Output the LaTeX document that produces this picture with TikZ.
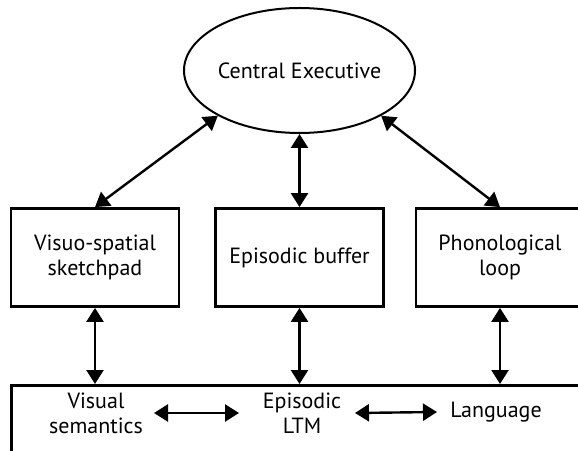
\documentclass[tikz,border=0pt]{standalone}
\usepackage{fontspec}
\setmainfont{PT Sans}
\usetikzlibrary{arrows.meta,shapes.geometric}

\begin{document}
\begin{tikzpicture}[x=0.5pt,y=0.5pt,font=\fontsize{11}{12.5}\selectfont,
  comp/.style={draw,line width=1.4pt,minimum width=84pt,minimum height=49pt,align=center,inner sep=0pt},
  store/.style={align=center,inner sep=0pt},
  link/.style={line width=1.2pt,{Triangle[length=7pt,width=8.5pt]}-{Triangle[length=7pt,width=8.5pt]}}]
\useasboundingbox (0,0) rectangle (578,450);
%\draw[gray] (0,0) grid[step=50] (578,450);
\node[draw,ellipse,line width=1pt,minimum width=97.5pt,minimum height=62.5pt,inner sep=0pt] (ce) at (299.5,379.5) {Central Executive};
\node[comp] (vs) at (95,192.5) {Visuo-spatial\\sketchpad};
\node[comp] (eb) at (299.5,192.5) {Episodic buffer};
\node[comp] (pl) at (500,192.5) {Phonological\\loop};
% long-term store, runs off the page
\node[draw,line width=1.4pt,anchor=north west,minimum width=300pt,minimum height=50pt] (ltm) at (10,66) {};
\node[store] (vsem) at (96,37) {Visual\\semantics};
\node[store] (eltm) at (302,37) {Episodic\\LTM};
\node[store] (lang) at (496,38) {Language};
\draw[link] (ce.209) -- (vs.north);
\draw[link] (ce.south) -- (eb.north);
\draw[link] (ce.331) -- (pl.north);
\draw[link] (vs.south) -- (vs.south |- ltm.north);
\draw[link] (eb.south) -- (eb.south |- ltm.north);
\draw[link] (pl.south) -- (pl.south |- ltm.north);
\draw[link] ([xshift=29pt]vsem.center) -- ([xshift=-31.5pt]eltm.center);
\draw[link] ([xshift=26.5pt]eltm.center) -- ([xshift=-29.5pt]lang.center);
\end{tikzpicture}
\end{document}
